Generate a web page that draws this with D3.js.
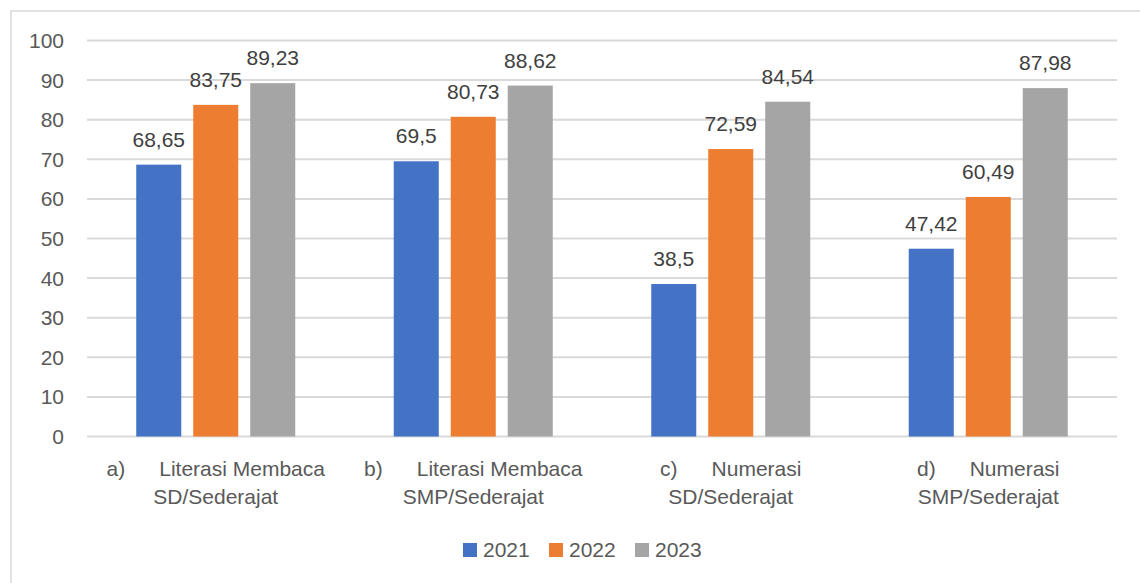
<!DOCTYPE html>
<html>
<head>
<meta charset="utf-8">
<script src="https://cdn.jsdelivr.net/npm/d3@7"></script>
<style>
  body { margin: 0; background: #fff; }
  svg { display: block; font-family: "Liberation Sans", Arial, sans-serif; }
</style>
</head>
<body>
<svg id="chart" width="1140" height="583"></svg>
<script>
// data
const letters = ["a)", "b)", "c)", "d)"];
const lineOne = ["Literasi Membaca", "Literasi Membaca", "Numerasi", "Numerasi"];
const lineTwo = ["SD/Sederajat", "SMP/Sederajat", "SD/Sederajat", "SMP/Sederajat"];
const years = ["2021", "2022", "2023"];
const values2021 = [68.65, 69.5, 38.5, 47.42];
const values2022 = [83.75, 80.73, 72.59, 60.49];
const values2023 = [89.23, 88.62, 84.54, 87.98];
const yTicks = [0, 10, 20, 30, 40, 50, 60, 70, 80, 90, 100];

const colors = ["#4472C4", "#ED7D31", "#A5A5A5"];
const series = [values2021, values2022, values2023];

const svg = d3.select("#chart");

// outer chart border
svg.append("rect")
  .attr("x", 11).attr("y", 11)
  .attr("width", 1160).attr("height", 600)
  .attr("fill", "none")
  .attr("stroke", "#d9d9d9")
  .attr("stroke-width", 1.5);

const plotLeft = 87, plotRight = 1117, plotTop = 40.5, plotBottom = 436.5;

const x0 = d3.scaleBand()
  .domain(d3.range(letters.length))
  .range([plotLeft, plotRight])
  .padding(0);

const x1 = d3.scaleBand()
  .domain(years)
  .range([0, x0.bandwidth()])
  .paddingInner(0.21)
  .paddingOuter(0.864);

const y = d3.scaleLinear()
  .domain([0, 100])
  .range([plotBottom, plotTop]);

// gridlines
svg.append("g")
  .selectAll("line")
  .data(yTicks)
  .enter()
  .append("line")
  .attr("x1", plotLeft)
  .attr("x2", plotRight)
  .attr("y1", d => y(d))
  .attr("y2", d => y(d))
  .attr("stroke", "#d9d9d9")
  .attr("stroke-width", 2);

// y axis labels
svg.append("g")
  .selectAll("text")
  .data(yTicks)
  .enter()
  .append("text")
  .attr("x", 64)
  .attr("y", d => y(d))
  .attr("dy", "0.36em")
  .attr("text-anchor", "end")
  .attr("fill", "#595959")
  .style("font-size", "21px")
  .text(d => d);

// bars + labels
series.forEach((vals, si) => {
  const g = svg.append("g");
  g.selectAll("rect")
    .data(vals)
    .enter()
    .append("rect")
    .attr("x", (d, i) => x0(i) + x1(years[si]))
    .attr("y", d => y(d))
    .attr("width", x1.bandwidth())
    .attr("height", d => y(0) - y(d))
    .attr("fill", colors[si]);

  g.selectAll("text")
    .data(vals)
    .enter()
    .append("text")
    .attr("x", (d, i) => x0(i) + x1(years[si]) + x1.bandwidth() / 2)
    .attr("y", d => y(d) - 18)
    .attr("text-anchor", "middle")
    .attr("fill", "#404040")
    .style("font-size", "21px")
    .text(d => String(d).replace(".", ","));
});

// category labels (two lines, centred on group)
const gap = 34;
letters.forEach((l, i) => {
  const cx = x0(i) + x0.bandwidth() / 2;
  const g = svg.append("g").attr("fill", "#595959").style("font-size", "21px");
  const t1 = g.append("text").attr("y", 476).text(l);
  const t2 = g.append("text").attr("y", 476).text(lineOne[i]);
  const w1 = t1.node().getComputedTextLength();
  const w2 = t2.node().getComputedTextLength();
  const start = cx - (w1 + gap + w2) / 2;
  t1.attr("x", start);
  t2.attr("x", start + w1 + gap);
  g.append("text")
    .attr("x", cx)
    .attr("y", 504)
    .attr("text-anchor", "middle")
    .text(lineTwo[i]);
});

// legend
const legend = svg.append("g");
years.forEach((yr, i) => {
  const lx = 463 + i * 86;
  legend.append("rect")
    .attr("x", lx).attr("y", 543)
    .attr("width", 14).attr("height", 14)
    .attr("fill", colors[i]);
  legend.append("text")
    .attr("x", lx + 20)
    .attr("y", 557)
    .attr("fill", "#595959")
    .style("font-size", "21px")
    .text(yr);
});
</script>
</body>
</html>
